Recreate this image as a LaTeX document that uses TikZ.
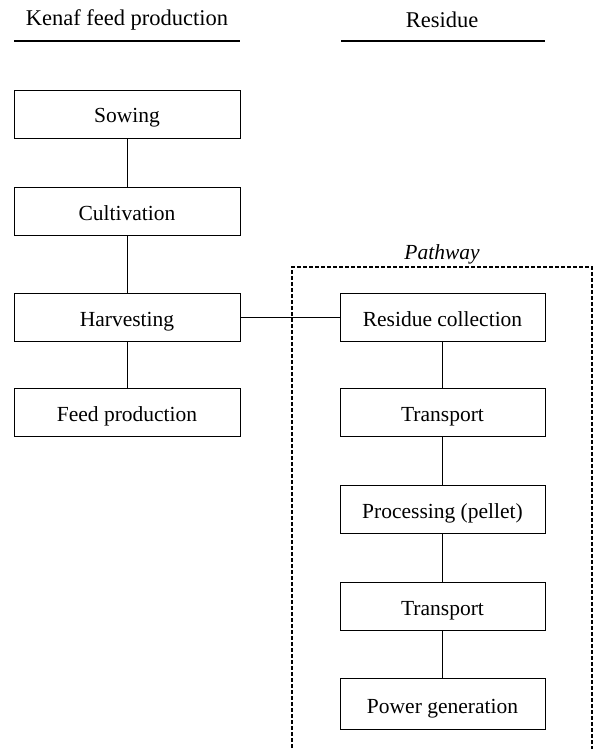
\documentclass[tikz,border=0pt]{standalone}
\usepackage{fontspec}
\setmainfont{Liberation Serif}
\usetikzlibrary{shapes.geometric}

\tikzset{
    stepbox/.style={draw, line width=0.8pt, minimum height=48pt, font=\fontsize{21.5}{25}\selectfont,
        inner sep=0pt, text height=18pt, text depth=0pt},
    leftbox/.style={stepbox, minimum width=226pt},
    rightbox/.style={stepbox, minimum width=205pt},
    heading/.style={font=\fontsize{22.5}{26}\selectfont},
    link/.style={line width=0.8pt}
}

\begin{document}
\begin{tikzpicture}[x=1pt, y=-1pt]  % Begins a TikZ picture, pixel-like units
    \useasboundingbox (0,0) rectangle (596,749);  % Fixes the page size

    % Column headings
    \node[heading] (headfeed) at (127,20) {Kenaf feed production};
    \node[heading] (headres) at (442,20) {Residue};
    \draw[line width=1.2pt] (14,41) -- (240,41);
    \draw[line width=1.2pt] (341,41) -- (545,41);

    % Pathway frame
    \draw[dashed, dash pattern=on 4pt off 2pt, line width=1.2pt] (292,760) -- (292,267) -- (592,267) -- (592,760);
    \node[font=\fontsize{21.5}{25}\selectfont\itshape] (pathway) at (442,254) {Pathway};

    % Feed production steps
    \node[leftbox] (sowing) at (127,114) {Sowing};
    \node[leftbox] (cultivation) at (127,211) {Cultivation};
    \node[leftbox] (harvesting) at (127,317) {Harvesting};
    \node[leftbox] (feed) at (127,412) {Feed production};

    % Residue steps
    \node[rightbox] (collection) at (442.5,317) {Residue collection};
    \node[rightbox] (transporta) at (442.5,412) {Transport};
    \node[rightbox] (processing) at (442.5,509) {Processing (pellet)};
    \node[rightbox] (transportb) at (442.5,606) {Transport};
    \node[rightbox, minimum height=51pt] (power) at (442.5,704) {Power generation};

    % Connectors
    \foreach \a/\b in {sowing/cultivation, cultivation/harvesting, harvesting/feed,
                       collection/transporta, transporta/processing, processing/transportb, transportb/power} {
        \draw[link] (\a) -- (\b);  % Joins two steps
    }
    \draw[link] (harvesting) -- (collection);
\end{tikzpicture}
\end{document}
